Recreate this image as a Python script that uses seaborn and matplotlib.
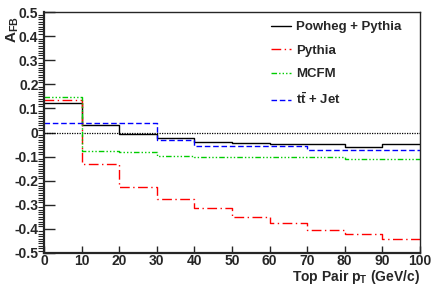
import numpy as np
import pandas as pd
import matplotlib
matplotlib.use("Agg")
import matplotlib.pyplot as plt
from matplotlib.ticker import MultipleLocator
import seaborn as sns

# bin edges of top pair pT (GeV/c)
edges = [0, 10, 20, 30, 40, 50, 60, 70, 80, 90, 100]

# A_FB per bin
powheg = [0.122, 0.031, -0.008, -0.024, -0.038, -0.044, -0.048, -0.048, -0.058, -0.048]
pythia = [0.137, -0.132, -0.225, -0.277, -0.315, -0.349, -0.374, -0.405, -0.421, -0.440]
mcfm = [0.149, -0.075, -0.081, -0.096, -0.100, -0.100, -0.100, -0.100, -0.110, -0.110]
ttjet = [0.040, 0.040, 0.040, -0.031, -0.056, -0.056, -0.056, -0.071, -0.071, -0.071]

labels = ["Powheg + Pythia", "Pythia", "MCFM", r"$\mathbf{t\bar{t}}$ + Jet"]

sns.set_style("ticks")
plt.rcParams["font.family"] = ["Liberation Sans", "DejaVu Sans"]
plt.rcParams["font.weight"] = "bold"
plt.rcParams["mathtext.fontset"] = "custom"
plt.rcParams["mathtext.rm"] = "Liberation Sans:bold"
plt.rcParams["mathtext.it"] = "Liberation Sans:bold"
plt.rcParams["mathtext.bf"] = "Liberation Sans:bold"

fig = plt.figure(figsize=(4.36, 2.89), dpi=100)
ax = fig.add_axes([0.101, 0.1246, 0.862, 0.8335])

styles = [
    ("black", "-"),
    ("#ff0000", (0, (7, 2.5, 1, 2.5))),
    ("#00cc00", (0, (4, 1.5, 1, 1.5, 1, 1.5, 1, 1.5))),
    ("#0000ff", (0, (4, 2))),
]

for vals, lab, (col, ls) in zip([powheg, pythia, mcfm, ttjet], labels, styles):
    df = pd.DataFrame({"x": edges, "y": vals + [vals[-1]]})
    sns.lineplot(data=df, x="x", y="y", drawstyle="steps-post", color=col,
                 linestyle=ls, linewidth=1.0, label=lab, ax=ax)

ax.axhline(0, color="black", linestyle=(0, (1, 1)), linewidth=0.9, zorder=1)

ax.set_xlim(0, 100)
ax.set_ylim(-0.5, 0.5)
ax.xaxis.set_major_locator(MultipleLocator(10))
ax.yaxis.set_minor_locator(MultipleLocator(0.01))
ax.set_yticks(np.arange(-0.5, 0.51, 0.1))
ax.set_yticklabels(["-0.5", "-0.4", "-0.3", "-0.2", "-0.1", "0",
                    "0.1", "0.2", "0.3", "0.4", "0.5"])
ax.tick_params(axis="both", direction="in", labelsize=10, width=1.0,
               top=False, right=False)
ax.tick_params(axis="y", which="major", length=8, pad=4)
ax.tick_params(axis="y", which="minor", length=4, width=0.8, left=True)
ax.tick_params(axis="x", which="major", length=5, pad=1)
for s in ax.spines.values():
    s.set_linewidth(1.0)
    s.set_visible(True)
ax.spines["left"].set_linewidth(1.6)
ax.spines["bottom"].set_linewidth(1.6)

ax.set_xlabel(r"Top Pair p$_\mathregular{T}$ (GeV/c)", fontsize=10,
              fontweight="bold", loc="right", labelpad=0)
ax.set_ylabel(r"A$_\mathregular{FB}$", fontsize=11, fontweight="bold",
              loc="top")
ax.yaxis.set_label_coords(-0.062, 0.985)

leg = ax.legend(loc="upper right", frameon=False, fontsize=9.5,
                handlelength=1.5, handletextpad=0.4, labelspacing=0.85,
                borderaxespad=0.0, bbox_to_anchor=(0.965, 0.985))
for t in leg.get_texts():
    t.set_fontweight("bold")

fig.savefig("out.png", dpi=100)
